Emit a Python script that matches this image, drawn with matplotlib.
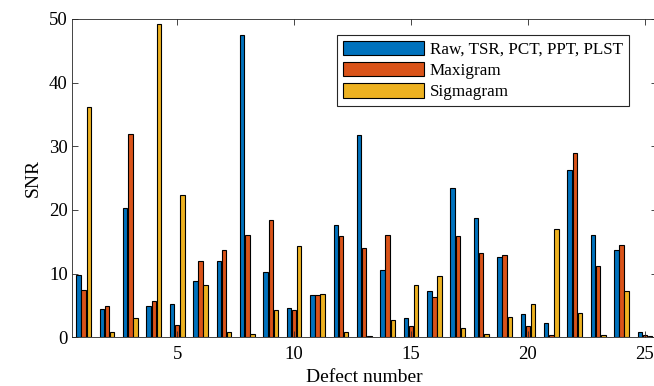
import matplotlib
matplotlib.use('Agg')
import matplotlib.pyplot as plt
import numpy as np

plt.rcParams['font.family'] = ['Liberation Serif', 'DejaVu Serif']
plt.rcParams['mathtext.fontset'] = 'stix'

# SNR values, one per defect
defects = np.arange(1, 26)
snr_raw = [9.8, 4.4, 20.3, 4.9, 5.3, 8.8, 12.0, 47.4, 10.2, 4.6, 6.6, 17.6, 31.8,
           10.5, 3.1, 7.3, 23.4, 18.7, 12.6, 3.6, 2.3, 26.3, 16.0, 13.7, 0.8]
snr_maxi = [7.4, 4.9, 31.9, 5.7, 1.9, 12.0, 13.7, 16.1, 18.5, 4.3, 6.7, 15.9, 14.0,
            16.0, 1.8, 6.4, 15.9, 13.2, 13.0, 1.8, 0.4, 29.0, 11.2, 14.5, 0.3]
snr_sigma = [36.1, 0.8, 3.1, 49.2, 22.3, 8.3, 0.8, 0.5, 4.3, 14.4, 6.8, 0.9, 0.15,
             2.7, 8.3, 9.7, 1.4, 0.5, 3.2, 5.2, 17.0, 3.8, 0.4, 7.3, 0.2]
labels = ['Raw, TSR, PCT, PPT, PLST', 'Maxigram', 'Sigmagram']
colors = ['#0072BD', '#D95319', '#EDB120']

fig = plt.figure(figsize=(6.54, 3.86), dpi=100)
ax = fig.add_axes([0.110, 0.126, 0.894, 0.825])

w = 0.19
for k, (vals, lab, c) in enumerate(zip([snr_raw, snr_maxi, snr_sigma], labels, colors)):
    ax.bar(defects + (k - 1) * 0.22, vals, width=w, color=c, edgecolor='black',
           linewidth=0.8, label=lab)

ax.set_xlim(0.5, 25.5)
ax.set_ylim(0, 50)
ax.set_xticks([5, 10, 15, 20, 25])
ax.set_yticks([0, 10, 20, 30, 40, 50])
ax.tick_params(direction='in', top=True, right=True, labelsize=13.5, length=4,
               width=0.6, colors='#262626', labelcolor='black')
ax.tick_params(axis='x', pad=6)
ax.tick_params(axis='y', pad=3)
for s in ax.spines.values():
    s.set_linewidth(0.6)
    s.set_color('#262626')

ax.set_xlabel('Defect number', fontsize=14, labelpad=4.5)
ax.set_ylabel('SNR', fontsize=14, labelpad=5)

leg = ax.legend(loc='upper right', bbox_to_anchor=(0.952, 0.950), borderaxespad=0,
                fontsize=12.3, fancybox=False, edgecolor='#262626', framealpha=1,
                handlelength=4.7, handleheight=0.9, handletextpad=0.35,
                labelspacing=0.25, borderpad=0.35)
leg.get_frame().set_linewidth(0.8)

fig.savefig('out.png', dpi=100)
